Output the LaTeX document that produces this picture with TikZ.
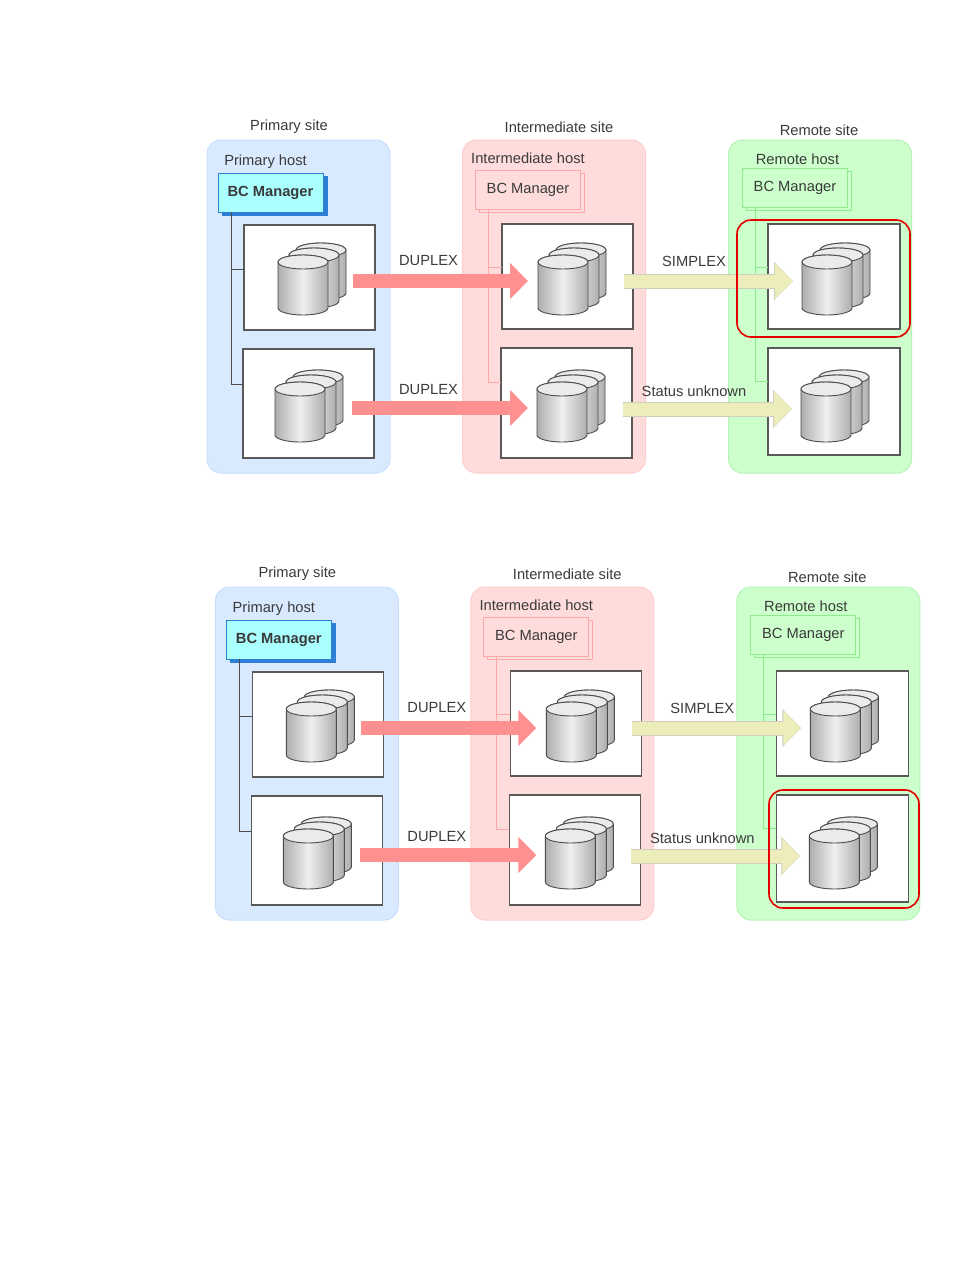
\documentclass[tikz,border=0pt]{standalone}
\usepackage{fontspec}
\setmainfont{Liberation Sans}
\usetikzlibrary{arrows.meta,shadows}
\definecolor{siteblue}{HTML}{D9EAFF}
\definecolor{sitepink}{HTML}{FFDCDC}
\definecolor{sitegreen}{HTML}{CCFFCC}
\definecolor{edgeblue}{HTML}{C6DFFF}
\definecolor{edgepink}{HTML}{FFCDCD}
\definecolor{edgegreen}{HTML}{B4F4B4}
\definecolor{linepink}{HTML}{FFA8A8}
\definecolor{linegreen}{HTML}{8CEC8C}
\definecolor{mgrblue}{HTML}{AAFFFF}
\definecolor{mgrdark}{HTML}{2C7FD4}
\definecolor{flowpink}{HTML}{FF9090}
\definecolor{flowyellow}{HTML}{EDEDBC}
\definecolor{flowedge}{HTML}{CFCFBC}
\definecolor{inktext}{HTML}{3A3A3A}
\newcommand{\drum}[3]{
    \draw[draw=black!70,line width=.9pt,left color=black!32,right color=black!32,middle color=black!6,shift={(#1,#2)}]
        (-25,0) -- (-25,#3) arc[start angle=180,end angle=360,x radius=25pt,y radius=7pt] -- (25,0)
        arc[start angle=0,end angle=180,x radius=25pt,y radius=7pt] -- cycle;
    \draw[draw=black!70,line width=.9pt,fill=black!8,shift={(#1,#2)}] (0,0) ellipse[x radius=25pt,y radius=7pt];
}
\tikzset{
    label/.style={text=inktext,font=\fontsize{14.7}{16}\selectfont,inner sep=0pt},
    sitebox/.style={rounded corners=14pt,line width=1pt,minimum width=183pt,minimum height=333pt},
    diskbox/.style={draw=black!65,fill=white,line width=1.1pt,minimum width=131pt,outer sep=0pt},
    mgrbox/.style={minimum width=105pt,minimum height=39pt,outer sep=0pt,inner sep=0pt,
        font=\fontsize{14.7}{16}\selectfont,text=inktext},
    mgrsolid/.style={mgrbox,fill=mgrblue,draw=mgrdark,line width=1pt,font=\fontsize{14.7}{16}\selectfont\bfseries,
        copy shadow={draw=mgrdark,fill=mgrdark,shadow xshift=4pt,shadow yshift=-3pt}},
    mgrpink/.style={mgrbox,fill=sitepink,draw=linepink,line width=1pt,
        copy shadow={draw=linepink,fill=sitepink,shadow xshift=4pt,shadow yshift=-3pt}},
    mgrgreen/.style={mgrbox,fill=sitegreen,draw=linegreen,line width=1pt,
        copy shadow={draw=linegreen,fill=sitegreen,shadow xshift=4pt,shadow yshift=-3pt}},
    hostline/.style={draw=black!70,line width=1pt},
    pinkline/.style={draw=linepink,line width=1pt},
    greenline/.style={draw=linegreen,line width=1pt},
    pinkflow/.style={draw=flowpink,line width=14pt,-{Triangle[length=18pt,width=35pt,fill=flowpink]}},
    yellowflow/.style={draw=flowyellow,line width=13pt,-{Triangle[length=18pt,width=34pt,fill=flowyellow]},
        preaction={draw=flowedge,line width=15pt,-{Triangle[length=19pt,width=37pt,fill=flowedge]}}},
    redbox/.style={draw=red!90!black,line width=1.6pt,rounded corners=14pt},
    diskstack/.pic={
        \drum{18}{-12}{43}
        \drum{11}{-7}{46}
        \drum{0}{0}{46}
    }
}
\begin{document}
\begin{tikzpicture}[x=1pt,y=-1pt]
    \useasboundingbox (0,0) rectangle (954,1270);
    \foreach \panel/\dx/\dy in {1/0/0,2/8.3/447} {
        \begin{scope}[shift={(\dx,\dy)}]
            % sites
            \node[sitebox,fill=siteblue,draw=edgeblue] (sitep\panel) at (298.5,306.5) {};
            \node[sitebox,fill=sitepink,draw=edgepink] (sitei\panel) at (554,306.5) {};
            \node[sitebox,fill=sitegreen,draw=edgegreen] (siter\panel) at (820,306.5) {};
            \node[label] (namep\panel) at (289,127) {Primary site};
            \node[label] (namei\panel) at (559,127) {Intermediate site};
            \node[label] (namer\panel) at (819,130) {Remote site};
            \node[label] (hostp\panel) at (265.5,162) {Primary host};
            \node[label] (hosti\panel) at (528,158) {Intermediate host};
            \node[label] (hostr\panel) at (797.5,159) {Remote host};
            % BC Manager boxes
            \node[mgrsolid] (mgrp\panel) at (270.5,192.5) {BC Manager};
            \node[mgrpink] (mgri\panel) at (528,189.5) {BC Manager};
            \node[mgrgreen] (mgrr\panel) at (795,188) {BC Manager};
            % volume boxes
            \node[diskbox,minimum height=105pt] (volpa\panel) at (309.5,277.5) {};
            \node[diskbox,minimum height=109pt] (volpb\panel) at (308.5,403.5) {};
            \node[diskbox,minimum height=105pt] (volia\panel) at (567.5,276.5) {};
            \node[diskbox,minimum height=110pt] (volib\panel) at (566.5,403) {};
            \node[diskbox,minimum width=132pt,minimum height=105pt] (volra\panel) at (834,276.5) {};
            \node[diskbox,minimum width=132pt,minimum height=107pt] (volrb\panel) at (834,401.5) {};
            % host lines
            \coordinate (tappa\panel) at (231,269);
            \coordinate (tappb\panel) at (231,384);
            \coordinate (tapia\panel) at (488,267);
            \coordinate (tapib\panel) at (488,382);
            \coordinate (tapra\panel) at (755,267);
            \coordinate (taprb\panel) at (755,381);
            \draw[hostline] (tappb\panel |- mgrp\panel.south) -- (tappb\panel) -- (tappb\panel -| volpb\panel.west);
            \draw[hostline] (tappa\panel) -- (tappa\panel -| volpa\panel.west);
            \draw[pinkline] (tapib\panel |- mgri\panel.south) -- (tapib\panel) -- (tapib\panel -| volib\panel.west);
            \draw[pinkline] (tapia\panel) -- (tapia\panel -| volia\panel.west);
            \draw[greenline] (taprb\panel |- mgrr\panel.south) -- (taprb\panel) -- (taprb\panel -| volrb\panel.west);
            \draw[greenline] (tapra\panel) -- (tapra\panel -| volra\panel.west);
            % disks
            \pic at (303,262) {diskstack};
            \pic at (300,389) {diskstack};
            \pic at (563,262) {diskstack};
            \pic at (562,389) {diskstack};
            \pic at (827,262) {diskstack};
            \pic at (826,389) {diskstack};
            % copy flows
            \coordinate (fromp\panel) at (353,281);
            \coordinate (toi\panel) at (528,281);
            \coordinate (fromq\panel) at (352,408);
            \coordinate (toj\panel) at (528,408);
            \coordinate (fromi\panel) at (624,281);
            \coordinate (tor\panel) at (793,281);
            \coordinate (fromj\panel) at (623,409);
            \coordinate (tos\panel) at (792,409);
            \draw[pinkflow] (fromp\panel) -- (toi\panel);
            \draw[pinkflow] (fromq\panel) -- (toj\panel);
            \draw[yellowflow] (fromi\panel) -- (tor\panel);
            \draw[yellowflow] (fromj\panel) -- (tos\panel);
            \node[label] (dupa\panel) at (428.5,261) {DUPLEX};
            \node[label] (dupb\panel) at (428.5,390) {DUPLEX};
            \node[label] (simp\panel) at (694,261) {SIMPLEX};
            \node[label] (stat\panel) at (694,391) {Status unknown};
        \end{scope}
    }
    % highlighted volumes
    \node[redbox,minimum width=173pt,minimum height=117pt] (marka) at (823.5,278.5) {};
    \node[redbox,minimum width=150pt,minimum height=118pt] (markb) at (844,849) {};
\end{tikzpicture}
\end{document}
